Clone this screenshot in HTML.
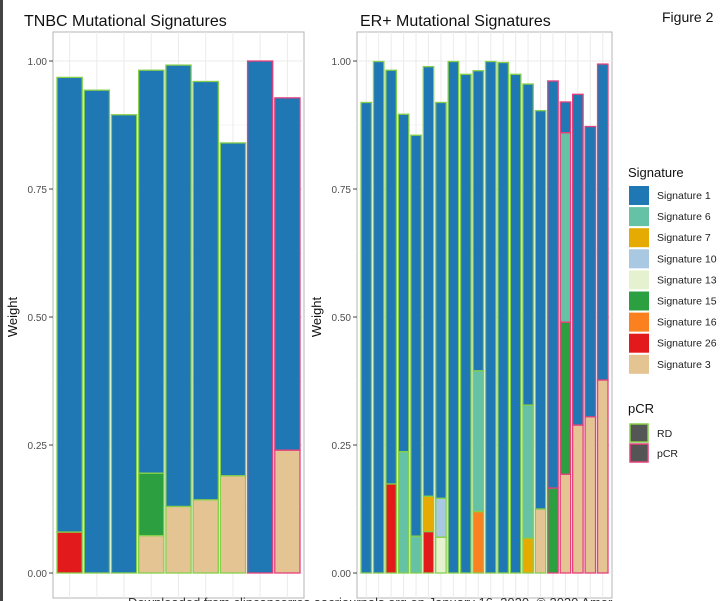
<!DOCTYPE html>
<html><head><meta charset="utf-8"><style>
body{margin:0;background:#fff;width:724px;height:601px;overflow:hidden}
svg{display:block;font-family:"Liberation Sans",sans-serif}
</style></head><body>
<svg id="fig" width="724" height="601"></svg>
<script>
const sigNames=["Signature 1","Signature 6","Signature 7","Signature 10","Signature 13","Signature 15","Signature 16","Signature 26","Signature 3"];
const sigColors={"Signature 1":"#1f77b4","Signature 6":"#66c2a5","Signature 7":"#e6ab02","Signature 10":"#a9c8e2","Signature 13":"#e6f2cf","Signature 15":"#2ca040","Signature 16":"#fb8020","Signature 26":"#e31a1c","Signature 3":"#e5c494"};
const tnbcSegs=[
 [["Signature 26",0.08],["Signature 1",0.888]],
 [["Signature 1",0.943]],
 [["Signature 1",0.895]],
 [["Signature 3",0.073],["Signature 15",0.122],["Signature 1",0.787]],
 [["Signature 3",0.13],["Signature 1",0.862]],
 [["Signature 3",0.143],["Signature 1",0.817]],
 [["Signature 3",0.19],["Signature 1",0.65]],
 [["Signature 1",1.0]],
 [["Signature 3",0.24],["Signature 1",0.688]]
];
const tnbcResp=["RD","RD","RD","RD","RD","RD","RD","pCR","pCR"];
const erSegs=[
 [["Signature 1",0.919]],
 [["Signature 1",0.999]],
 [["Signature 26",0.174],["Signature 1",0.808]],
 [["Signature 6",0.237],["Signature 1",0.659]],
 [["Signature 6",0.072],["Signature 1",0.783]],
 [["Signature 26",0.081],["Signature 7",0.069],["Signature 1",0.839]],
 [["Signature 13",0.07],["Signature 10",0.076],["Signature 1",0.773]],
 [["Signature 1",0.999]],
 [["Signature 1",0.974]],
 [["Signature 16",0.12],["Signature 6",0.275],["Signature 1",0.586]],
 [["Signature 1",0.999]],
 [["Signature 1",0.997]],
 [["Signature 1",0.974]],
 [["Signature 7",0.068],["Signature 6",0.26],["Signature 1",0.627]],
 [["Signature 3",0.125],["Signature 1",0.778]],
 [["Signature 15",0.166],["Signature 1",0.795]],
 [["Signature 3",0.193],["Signature 15",0.297],["Signature 6",0.37],["Signature 1",0.06]],
 [["Signature 3",0.289],["Signature 1",0.646]],
 [["Signature 3",0.305],["Signature 1",0.567]],
 [["Signature 3",0.377],["Signature 1",0.617]]
];
const erResp=["RD","RD","RD","RD","RD","RD","RD","RD","RD","RD","RD","RD","RD","RD","RD","pCR","pCR","pCR","pCR","pCR"];
const yTicks=[0,0.25,0.5,0.75,1.0];
const yTickLabels=["0.00","0.25","0.50","0.75","1.00"];
const respColors={RD:"#86cf4a",pCR:"#e5417c"};

const NS="http://www.w3.org/2000/svg";
const svg=document.getElementById("fig");
function mk(tag,attrs,parent){const e=document.createElementNS(NS,tag);for(const k in attrs)e.setAttribute(k,attrs[k]);(parent||svg).appendChild(e);return e;}
const y0=573,y1=61;
function yScale(v){return y0-(y0-y1)*v;}

function panel(name,x0,x1,title,titleX,segs,resp){
  const g=mk("g",{});
  
  
  const top=32,bot=598;
  mk("rect",{x:x0,y:top,width:x1-x0,height:bot-top,fill:"#fff",stroke:"#b5b5b5","stroke-width":1},g);
  for(let v=0;v<=1.0001;v+=0.125){mk("line",{x1:x0,x2:x1,y1:yScale(v),y2:yScale(v),stroke:"#ebebeb","stroke-width":(Math.round(v*8)%2?0.6:1)},g);}
  const n=segs.length,bw=(x1-x0-6)/n;
  for(let i=0;i<n;i++){const cx=x0+3+bw*(i+0.5);mk("line",{x1:cx,x2:cx,y1:top,y2:bot,stroke:"#ebebeb","stroke-width":1},g);}
  for(let i=0;i<n;i++){
    let acc=0;const bx=x0+3+bw*i+1,w=bw-2;
    for(const [s,v] of segs[i]){
      const r=mk("rect",{x:bx,y:yScale(acc+v),width:w,height:yScale(acc)-yScale(acc+v),fill:sigColors[s],stroke:respColors[resp[i]],"stroke-width":1.3},g);
      
      
      acc+=v;
    }
  }
  yTicks.forEach((t,k)=>{
    mk("line",{x1:x0-4,x2:x0,y1:yScale(t),y2:yScale(t),stroke:"#444"},g);
    const tx=mk("text",{x:x0-6,y:yScale(t)+4,"text-anchor":"end","font-size":10,fill:"#4d4d4d"},g);
    tx.textContent=yTickLabels[k];
    
    
  });
  const yt=mk("text",{x:0,y:0,transform:`translate(${x0-36},${(y0+y1)/2}) rotate(-90)`,"text-anchor":"middle","font-size":13,fill:"#111"},g);
  yt.textContent="Weight";
  
  
  const tt=mk("text",{x:titleX,y:26,"font-size":16,fill:"#111"},g);
  tt.textContent=title;
  
  
}
panel("tnbc",53,304,"TNBC Mutational Signatures",24,tnbcSegs,tnbcResp);
panel("er",357,612,"ER+ Mutational Signatures",360,erSegs,erResp);

const lg=mk("g",{});


let t=mk("text",{x:628,y:177,"font-size":13,fill:"#111"},lg);t.textContent="Signature";
sigNames.forEach((s,i)=>{
  const r=mk("rect",{x:629,y:186+i*21.1,width:20,height:19,fill:sigColors[s]},lg);
  
  
  const tx=mk("text",{x:657,y:199+i*21.1,"font-size":10.5,fill:"#222"},lg);tx.textContent=s;
  
  
});
t=mk("text",{x:628,y:413,"font-size":13,fill:"#111"},lg);t.textContent="pCR";
["RD","pCR"].forEach((s,i)=>{
  const r=mk("rect",{x:630,y:424+i*20,width:18,height:18,fill:"#555",stroke:respColors[s],"stroke-width":1.5},lg);
  
  
  const tx=mk("text",{x:657,y:437+i*20,"font-size":10.5,fill:"#222"},lg);tx.textContent=s;
  
  
});
t=mk("text",{x:662,y:22,"font-size":14,fill:"#111"});t.textContent="Figure 2";


mk("rect",{x:0,y:0,width:3,height:601,fill:"#444"});
t=mk("text",{x:128,y:607,"font-size":13,fill:"#333"});t.textContent="Downloaded from clincancerres.aacrjournals.org on January 16, 2020. © 2020 Amer";


</script>
</body></html>
